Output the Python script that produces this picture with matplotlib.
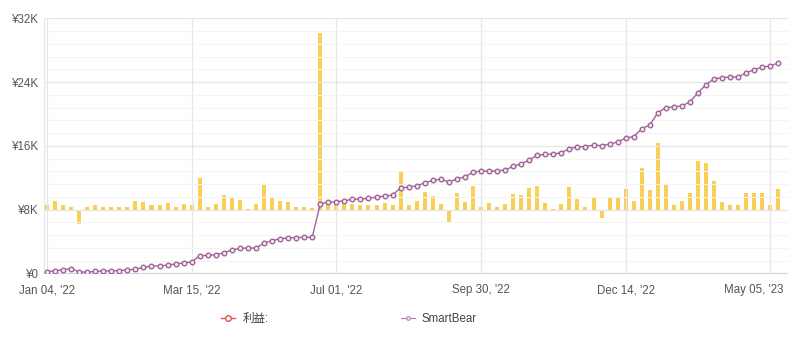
import numpy as np
import matplotlib.pyplot as plt
from matplotlib.lines import Line2D
from matplotlib.ticker import MultipleLocator, FuncFormatter

plt.rcParams['font.family'] = ['Liberation Sans', 'Noto Sans CJK JP']

# cumulative balance (yen), one point per trade date
balance = [200, 330, 430, 600, 160, 160, 230, 290, 290, 350,
           410, 540, 730, 920, 920, 1040, 1170, 1320, 1420, 2210,
           2250, 2320, 2580, 2920, 3140, 3170, 3170, 3800, 4090, 4330,
           4450, 4490, 4520, 4520, 8730, 8910, 8980, 9110, 9290, 9320,
           9410, 9570, 9700, 9820, 10740, 10790, 10990, 11330, 11670, 11800,
           11460, 11830, 12120, 12670, 12840, 12840, 12840, 12960, 13430, 13740,
           14220, 14810, 14930, 14970, 15130, 15640, 15890, 15890, 16100, 16010,
           16220, 16480, 16980, 17140, 18140, 18610, 20150, 20780, 20900, 20990,
           21530, 22660, 23670, 24420, 24540, 24630, 24630, 25170, 25550, 25890,
           26010, 26430]

# profit per date (yen)
profit = [125, 225, 120, 60, -350, 60, 120, 60, 60, 60,
          60, 225, 190, 125, 125, 175, 75, 140, 110, 800,
          75, 130, 375, 280, 230, 15, 130, 640, 300, 225,
          180, 70, 70, 50, 4420, 150, 150, 220, 150, 125,
          125, 125, 175, 125, 975, 125, 225, 450, 340, 150,
          -325, 425, 200, 600, 70, 175, 70, 150, 400, 370,
          540, 600, 175, 20, 150, 575, 275, 75, 290, -220,
          325, 300, 525, 225, 1040, 490, 1670, 625, 125, 225,
          425, 1225, 1175, 725, 200, 125, 125, 425, 425, 425,
          125, 525]

tick_pos = [0, 18, 36, 54, 72, 90]
tick_labels = ["Jan 04, '22", "Mar 15, '22", "Jul 01, '22",
               "Sep 30, '22", "Dec 14, '22", "May 05, '23"]

x = np.arange(len(balance))

fig = plt.figure(figsize=(7.88, 3.44), dpi=100)
ax = fig.add_axes([0.0562, 0.2055, 0.9438, 0.7413])
ax2 = ax.twinx()

ax2.bar(x, profit, width=0.5, color='#f9cf55', zorder=2)
ax2.set_ylim(-1600, 4800)
ax2.set_yticks([])
for s in ax2.spines.values():
    s.set_visible(False)

ax.set_zorder(ax2.get_zorder() + 1)
ax.patch.set_visible(False)
ax.plot(x, balance, color='#a2639a', lw=1, marker='o', ms=3.3,
        mfc='#f5e8f2', mec='#a2639a', mew=1.0, zorder=3)

ax.set_xlim(-0.34, 92.2)
ax.set_ylim(0, 32000)
ax.yaxis.set_major_locator(MultipleLocator(8000))
ax.yaxis.set_minor_locator(MultipleLocator(1600))
ax.yaxis.set_major_formatter(FuncFormatter(
    lambda v, p: '¥0' if v == 0 else '¥%dK' % (v / 1000)))
ax.set_xticks(tick_pos)
ax.set_xticklabels(tick_labels[:-1] + [''])

ax.tick_params(axis='both', which='both', length=0, colors='#555555',
               labelsize=8.3)
ax.tick_params(axis='x', pad=8)
ax.tick_params(axis='y', pad=4)

# last date label pulled left so it stays inside the figure
ax.annotate(tick_labels[-1], xy=(tick_pos[-1], 0),
            xycoords=('data', 'axes fraction'), xytext=(-12, -8),
            textcoords='offset points', ha='center', va='top',
            fontsize=8.3, color='#555555')

ax.grid(axis='y', which='major', color='#e6e6e6', lw=0.9)
ax.grid(axis='y', which='minor', color='#f4f4f4', lw=0.8)
ax.grid(axis='x', which='major', color='#e6e6e6', lw=0.9)
ax.set_axisbelow(True)

for side in ['top', 'right']:
    ax.spines[side].set_visible(False)
ax.spines['left'].set_color('#e6e6e6')
ax.spines['bottom'].set_color('#ccd6eb')

handles = [
    Line2D([], [], color='#e0534f', lw=1, marker='o', ms=4, mfc='white',
           mec='#e0534f', mew=1),
    Line2D([], [], color='#b07aaa', lw=0.8, marker='o', ms=2.5, mfc='white',
           mec='#b07aaa', mew=0.8),
]
fig.legend(handles, ['利益:', 'SmartBear'], ncol=2, loc='center',
           bbox_to_anchor=(0.443, 0.073), frameon=False, fontsize=8.3,
           handlelength=1.2, handletextpad=0.6, columnspacing=11.5,
           labelcolor='#444444')

fig.savefig('out.png', dpi=100)
